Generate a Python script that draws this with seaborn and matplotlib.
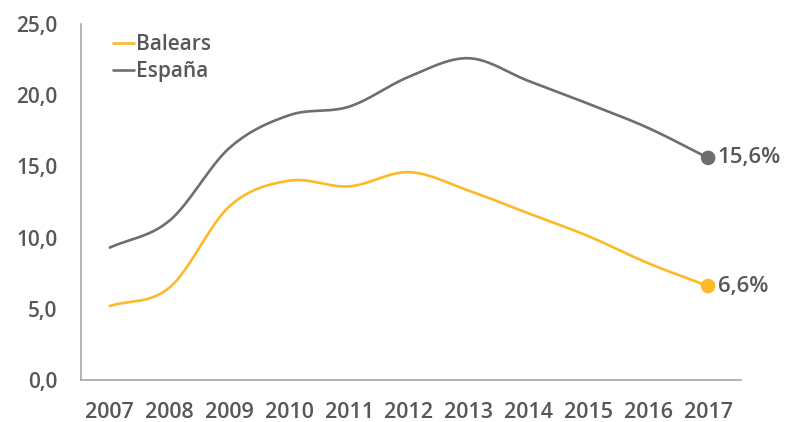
import matplotlib
matplotlib.use("Agg")
import matplotlib.pyplot as plt
import seaborn as sns
import pandas as pd
import numpy as np
from matplotlib.lines import Line2D

# values (%)
years = [2007, 2008, 2009, 2010, 2011, 2012, 2013, 2014, 2015, 2016, 2017]
balears = [5.2, 6.5, 12.2, 14.0, 13.6, 14.6, 13.3, 11.7, 10.1, 8.2, 6.6]
espana = [9.3, 11.2, 16.3, 18.6, 19.2, 21.3, 22.6, 21.0, 19.4, 17.7, 15.6]
series_names = ["Balears", "España"]
end_labels = ["6,6%", "15,6%"]
y_ticks = [0, 5, 10, 15, 20, 25]

ORANGE = "#FDB927"
GREY = "#6D6E71"
TEXT = "#55575A"
AXIS = "#A7A7A7"


def smooth(x, y, n=30):
    # Catmull-Rom style smoothing, like a spreadsheet "smoothed line"
    x = np.asarray(x, float)
    y = np.asarray(y, float)
    px = np.concatenate([[2 * x[0] - x[1]], x, [2 * x[-1] - x[-2]]])
    py = np.concatenate([[2 * y[0] - y[1]], y, [2 * y[-1] - y[-2]]])
    xs, ys = [], []
    t = np.linspace(0, 1, n, endpoint=False)
    for i in range(1, len(px) - 2):
        p0, p1, p2, p3 = (np.array([px[j], py[j]]) for j in range(i - 1, i + 3))
        c1 = p1 + (p2 - p0) / 6
        c2 = p2 - (p3 - p1) / 6
        b = ((1 - t) ** 3)[:, None] * p1 + (3 * (1 - t) ** 2 * t)[:, None] * c1 \
            + (3 * (1 - t) * t ** 2)[:, None] * c2 + (t ** 3)[:, None] * p2
        xs.extend(b[:, 0])
        ys.extend(b[:, 1])
    xs.append(x[-1])
    ys.append(y[-1])
    return xs, ys


sns.set_style("white")
plt.rcParams["font.family"] = ["Open Sans", "DejaVu Sans"]

fig = plt.figure(figsize=(7.87, 4.22), dpi=100)
ax = fig.add_axes([0.103, 0.0995, 0.8386, 0.8435])

frames = []
for name, vals in zip(series_names, [balears, espana]):
    sx, sy = smooth(years, vals)
    frames.append(pd.DataFrame({"year": sx, "value": sy, "serie": name}))
curves = pd.concat(frames, ignore_index=True)

palette = {"Balears": ORANGE, "España": GREY}
sns.lineplot(data=curves, x="year", y="value", hue="serie", palette=palette,
             linewidth=1.9, sort=False, ax=ax, legend=False)

ends = pd.DataFrame({"year": [years[-1], years[-1]],
                     "value": [balears[-1], espana[-1]],
                     "serie": series_names})
sns.scatterplot(data=ends, x="year", y="value", hue="serie", palette=palette,
                s=110, edgecolor="none", ax=ax, legend=False, zorder=5)
for v, lab in zip(ends["value"], end_labels):
    ax.annotate(lab, (years[-1], v), xytext=(7, 0), textcoords="offset points",
                va="center", ha="left", fontsize=16, color=TEXT,
                fontweight="semibold", annotation_clip=False)

ax.set_xlim(2006.52, 2017.55)
ax.set_ylim(0, 25)
ax.set_xticks(years)
ax.set_xticklabels([str(y) for y in years])
ax.set_yticks(y_ticks)
ax.set_yticklabels([f"{v:.1f}".replace(".", ",") for v in y_ticks])
ax.set_xlabel("")
ax.set_ylabel("")

for side in ["top", "right"]:
    ax.spines[side].set_visible(False)
for side in ["left", "bottom"]:
    ax.spines[side].set_color(AXIS)
    ax.spines[side].set_linewidth(1.2)

ax.tick_params(axis="y", direction="in", length=6, width=1.2, color=AXIS,
               labelsize=15, labelcolor=TEXT, pad=17)
ax.tick_params(axis="x", length=0, labelsize=15.5, labelcolor=TEXT, pad=16)
for lab in ax.get_xticklabels() + ax.get_yticklabels():
    lab.set_fontweight("semibold")

# legend
handles = [Line2D([], [], color=ORANGE, lw=1.9), Line2D([], [], color=GREY, lw=1.9)]
leg = ax.legend(handles, series_names, loc="upper left", bbox_to_anchor=(0.02, 1.025),
                frameon=False, handlelength=1.0, handletextpad=0.1,
                labelspacing=0.3, prop={"size": 15, "weight": "semibold"})
for t in leg.get_texts():
    t.set_color(TEXT)

fig.savefig("out.png", dpi=100)
